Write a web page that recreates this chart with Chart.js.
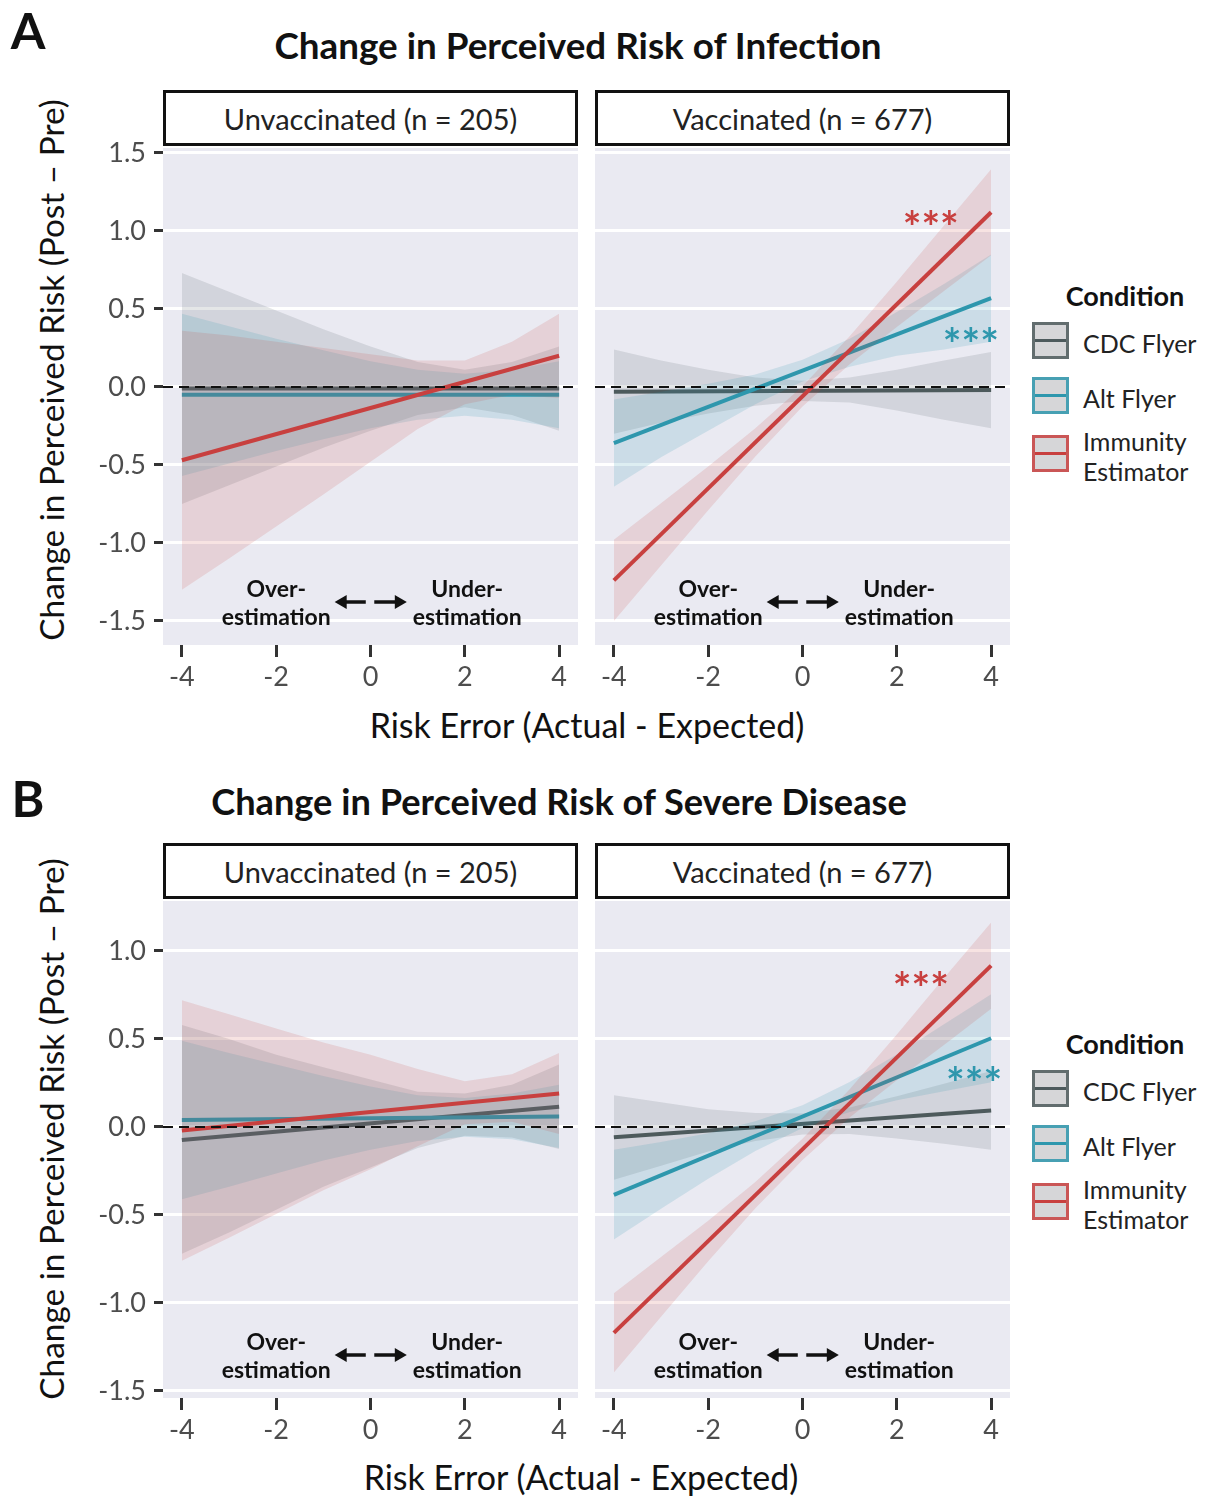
<!DOCTYPE html>
<html>
<head>
<meta charset="utf-8">
<script src="https://cdn.jsdelivr.net/npm/chart.js@4.4.0/dist/chart.umd.min.js"></script>
<style>
  body { margin:0; background:#fff; width:1205px; height:1496px; position:relative; overflow:hidden; font-family: Lato, "Open Sans", sans-serif; }
  .t { position:absolute; white-space:nowrap; transform:translate(-50%,-50%); line-height:1; color:#111; }
  .strip { position:absolute; box-sizing:border-box; border:3px solid #111; background:#fff; font-size:29px; color:#222; display:flex; align-items:center; justify-content:center; height:56px; width:415px; }
  .cv { position:absolute; }
  .key { position:absolute; box-sizing:border-box; width:37px; height:37px; border:3px solid; background:#D6D6D8; }
  .key i { position:absolute; left:0; right:0; top:14px; height:3px; display:block; }
  .lab { position:absolute; font-size:25px; color:#222; line-height:30px; white-space:nowrap; }
</style>
</head>
<body>

<div class="t" style="left:28px;top:30px;font-size:50px;font-weight:700;">A</div>
<div class="t" style="left:578px;top:45px;font-size:36.8px;font-weight:700;">Change in Perceived Risk of Infection</div>
<div class="strip" style="left:163px;top:90px;">Unvaccinated (n = 205)</div>
<div class="strip" style="left:595px;top:90px;">Vaccinated (n = 677)</div>
<div class="t" style="left:52px;top:370px;font-size:33.4px;transform:translate(-50%,-50%) rotate(-90deg);">Change in Perceived Risk (Post – Pre)</div>
<div class="t" style="left:587px;top:725px;font-size:34px;">Risk Error (Actual - Expected)</div>

<div class="t" style="left:28px;top:798px;font-size:50px;font-weight:700;">B</div>
<div class="t" style="left:559px;top:801px;font-size:36.2px;font-weight:700;">Change in Perceived Risk of Severe Disease</div>
<div class="strip" style="left:163px;top:843px;">Unvaccinated (n = 205)</div>
<div class="strip" style="left:595px;top:843px;">Vaccinated (n = 677)</div>
<div class="t" style="left:52px;top:1129px;font-size:33.4px;transform:translate(-50%,-50%) rotate(-90deg);">Change in Perceived Risk (Post – Pre)</div>
<div class="t" style="left:581px;top:1477px;font-size:34px;">Risk Error (Actual - Expected)</div>

<canvas id="cUA" class="cv" width="498" height="572" style="left:80px;top:128px;"></canvas>
<canvas id="cVA" class="cv" width="415" height="552" style="left:595px;top:148px;"></canvas>
<canvas id="cUB" class="cv" width="498" height="572" style="left:80px;top:881px;"></canvas>
<canvas id="cVB" class="cv" width="415" height="552" style="left:595px;top:901px;"></canvas>

<div id="legA"></div>
<div id="legB"></div>

<script>
// ---------- shared axes ----------
const xBand = [-4, -3, -2, -1, 0, 1, 2, 3, 4];
const xLine = [-4, 4];
const xTicks = [-4, -2, 0, 2, 4];
const yTicksA = [-1.5, -1.0, -0.5, 0.0, 0.5, 1.0, 1.5];
const yTicksB = [-1.5, -1.0, -0.5, 0.0, 0.5, 1.0];
const conditions = ['CDC Flyer', 'Alt Flyer', 'Immunity Estimator'];

// ---------- A: Infection, Unvaccinated ----------
const infUnvaxCdcLine = [-0.01, -0.01];
const infUnvaxCdcHi = [0.73, 0.61, 0.49, 0.37, 0.26, 0.16, 0.11, 0.16, 0.26];
const infUnvaxCdcLo = [-0.75, -0.63, -0.51, -0.39, -0.28, -0.18, -0.13, -0.18, -0.28];
const infUnvaxAltLine = [-0.05, -0.05];
const infUnvaxAltHi = [0.47, 0.39, 0.31, 0.235, 0.165, 0.11, 0.085, 0.11, 0.165];
const infUnvaxAltLo = [-0.57, -0.49, -0.41, -0.335, -0.265, -0.21, -0.185, -0.21, -0.265];
const infUnvaxImmLine = [-0.47, 0.20];
const infUnvaxImmHi = [0.36, 0.33, 0.29, 0.25, 0.21, 0.17, 0.17, 0.29, 0.47];
const infUnvaxImmLo = [-1.30, -1.10, -0.895, -0.69, -0.48, -0.27, -0.11, -0.05, -0.07];

// ---------- A: Infection, Vaccinated ----------
const infVaxCdcLine = [-0.03, -0.02];
const infVaxCdcHi = [0.24, 0.17, 0.11, 0.06, 0.04, 0.06, 0.11, 0.17, 0.225];
const infVaxCdcLo = [-0.30, -0.23, -0.17, -0.12, -0.09, -0.10, -0.15, -0.21, -0.265];
const infVaxAltLine = [-0.36, 0.57];
const infVaxAltHi = [-0.08, -0.03, 0.02, 0.08, 0.175, 0.31, 0.48, 0.66, 0.85];
const infVaxAltLo = [-0.64, -0.45, -0.28, -0.11, 0.035, 0.13, 0.20, 0.24, 0.29];
const infVaxImmLine = [-1.24, 1.12];
const infVaxImmHi = [-0.98, -0.745, -0.51, -0.265, 0.005, 0.325, 0.675, 1.035, 1.395];
const infVaxImmLo = [-1.50, -1.145, -0.79, -0.445, -0.125, 0.145, 0.385, 0.615, 0.845];

// ---------- B: Severe disease, Unvaccinated ----------
const sevUnvaxCdcLine = [-0.074, 0.115];
const sevUnvaxCdcHi = [0.58, 0.50, 0.41, 0.34, 0.27, 0.20, 0.19, 0.24, 0.355];
const sevUnvaxCdcLo = [-0.72, -0.60, -0.47, -0.34, -0.23, -0.12, -0.05, -0.06, -0.125];
const sevUnvaxAltLine = [0.04, 0.06];
const sevUnvaxAltHi = [0.49, 0.42, 0.355, 0.29, 0.23, 0.18, 0.165, 0.19, 0.24];
const sevUnvaxAltLo = [-0.41, -0.34, -0.265, -0.19, -0.13, -0.08, -0.055, -0.07, -0.12];
const sevUnvaxImmLine = [-0.02, 0.19];
const sevUnvaxImmHi = [0.72, 0.64, 0.56, 0.48, 0.41, 0.33, 0.26, 0.30, 0.42];
const sevUnvaxImmLo = [-0.76, -0.63, -0.495, -0.36, -0.24, -0.11, 0.015, 0.03, -0.04];

// ---------- B: Severe disease, Vaccinated ----------
const sevVaxCdcLine = [-0.059, 0.093];
const sevVaxCdcHi = [0.18, 0.14, 0.10, 0.08, 0.077, 0.11, 0.175, 0.245, 0.318];
const sevVaxCdcLo = [-0.30, -0.22, -0.14, -0.08, -0.043, -0.04, -0.065, -0.095, -0.13];
const sevVaxAltLine = [-0.386, 0.504];
const sevVaxAltHi = [-0.13, -0.085, -0.035, 0.033, 0.124, 0.255, 0.412, 0.583, 0.754];
const sevVaxAltLo = [-0.64, -0.465, -0.294, -0.137, -0.006, 0.085, 0.152, 0.203, 0.254];
const sevVaxImmLine = [-1.17, 0.917];
const sevVaxImmHi = [-0.945, -0.739, -0.533, -0.312, -0.067, 0.214, 0.525, 0.846, 1.162];
const sevVaxImmLo = [-1.395, -1.079, -0.763, -0.462, -0.187, 0.054, 0.265, 0.466, 0.672];

// ---------- styling ----------
const lineColors = ['#4D5A5C', '#2E97AD', '#C8403F'];
const bandColors = ['rgba(77,90,92,0.15)', 'rgba(46,151,173,0.16)', 'rgba(200,64,63,0.15)'];
const keyBorders = ['rgba(77,90,92,0.85)', 'rgba(46,151,173,0.85)', 'rgba(200,64,63,0.85)'];

function pts(xs, ys) { return xs.map((x, i) => ({ x: x, y: ys[i] })); }

function buildDatasets(series) {
  const ds = [];
  let order = 20;
  series.forEach((s, k) => {
    ds.push({ label: conditions[k] + ' lo', data: pts(xBand, s.lo), borderWidth: 0, pointRadius: 0, fill: false, order: order-- });
    ds.push({ label: conditions[k] + ' hi', data: pts(xBand, s.hi), borderWidth: 0, pointRadius: 0, fill: '-1', backgroundColor: bandColors[k], order: order-- });
    ds.push({ label: conditions[k], data: pts(xLine, s.line), borderColor: lineColors[k], borderWidth: 4, pointRadius: 0, fill: false, order: order-- });
  });
  ds.push({ label: 'zero', data: [{ x: -4.4, y: 0 }, { x: 4.4, y: 0 }], borderColor: '#111', borderWidth: 2, borderDash: [10, 6], pointRadius: 0, fill: false, order: 0 });
  return ds;
}

const panelBg = {
  id: 'panelBg',
  beforeDraw(chart) {
    const a = chart.chartArea, ctx = chart.ctx;
    ctx.save();
    ctx.fillStyle = '#EAEAF2';
    ctx.fillRect(a.left, a.top, a.right - a.left, a.bottom - a.top);
    ctx.restore();
  }
};

function arrow(ctx, xFrom, xTo, y) {
  const dir = xTo > xFrom ? 1 : -1;
  ctx.beginPath();
  ctx.moveTo(xFrom, y);
  ctx.lineTo(xTo - dir * 9, y);
  ctx.lineWidth = 3.5;
  ctx.strokeStyle = '#111';
  ctx.stroke();
  ctx.beginPath();
  ctx.moveTo(xTo, y);
  ctx.lineTo(xTo - dir * 12, y - 7);
  ctx.lineTo(xTo - dir * 12, y + 7);
  ctx.closePath();
  ctx.fillStyle = '#111';
  ctx.fill();
}

const panelAnnot = {
  id: 'panelAnnot',
  afterDatasetsDraw(chart, args, opts) {
    const ctx = chart.ctx, a = chart.chartArea, xs = chart.scales.x, ys = chart.scales.y;
    ctx.save();
    ctx.font = '700 23px Lato, sans-serif';
    ctx.fillStyle = '#111';
    ctx.textAlign = 'center';
    ctx.textBaseline = 'middle';
    const yTop = a.bottom - 55, yBot = a.bottom - 27, yArr = a.bottom - 43;
    ctx.fillText('Over-', xs.getPixelForValue(-2), yTop);
    ctx.fillText('estimation', xs.getPixelForValue(-2), yBot);
    ctx.fillText('Under-', xs.getPixelForValue(2.05), yTop);
    ctx.fillText('estimation', xs.getPixelForValue(2.05), yBot);
    arrow(ctx, xs.getPixelForValue(-0.1), xs.getPixelForValue(-0.76), yArr);
    arrow(ctx, xs.getPixelForValue(0.08), xs.getPixelForValue(0.77), yArr);
    (opts.stars || []).forEach(s => {
      ctx.font = '700 44px Lato, sans-serif';
      ctx.fillStyle = s.color;
      ctx.fillText('***', xs.getPixelForValue(s.x), ys.getPixelForValue(s.y) + 10);
    });
    ctx.restore();
  }
};

function makePanel(id, series, yMin, yMax, yTicks, showY, stars) {
  new Chart(document.getElementById(id), {
    type: 'line',
    data: { datasets: buildDatasets(series) },
    plugins: [panelBg, panelAnnot],
    options: {
      responsive: false,
      animation: false,
      devicePixelRatio: 1,
      layout: { padding: { top: showY ? 20 : 0, left: 0, right: 0, bottom: 0 } },
      plugins: { legend: { display: false }, tooltip: { enabled: false }, title: { display: false }, panelAnnot: { stars: stars } },
      scales: {
        x: {
          type: 'linear', min: -4.4, max: 4.4,
          border: { display: false },
          grid: { drawOnChartArea: false, drawTicks: true, tickLength: 12, tickWidth: 3, tickColor: '#333' },
          ticks: { color: '#4d4d4d', font: { family: 'Lato', size: 27 }, padding: 4, maxRotation: 0, callback: v => String(v) },
          afterBuildTicks: sc => { sc.ticks = xTicks.map(v => ({ value: v })); },
          afterFit: sc => { sc.height = 55; sc.paddingLeft = 0; sc.paddingRight = 0; }
        },
        y: {
          type: 'linear', min: yMin, max: yMax,
          border: { display: false },
          grid: { color: '#ffffff', lineWidth: 3, drawTicks: showY, tickLength: 9, tickWidth: 3, tickColor: '#333' },
          ticks: { display: showY, color: '#4d4d4d', font: { family: 'Lato', size: 27 }, padding: 8, callback: v => v.toFixed(1) },
          afterBuildTicks: sc => { sc.ticks = yTicks.map(v => ({ value: v })); },
          afterFit: sc => { sc.width = showY ? 83 : 0; sc.paddingTop = 0; sc.paddingBottom = 0; }
        }
      }
    }
  });
}

makePanel('cUA', [
  { line: infUnvaxCdcLine, hi: infUnvaxCdcHi, lo: infUnvaxCdcLo },
  { line: infUnvaxAltLine, hi: infUnvaxAltHi, lo: infUnvaxAltLo },
  { line: infUnvaxImmLine, hi: infUnvaxImmHi, lo: infUnvaxImmLo }
], -1.654, 1.532, yTicksA, true, []);

makePanel('cVA', [
  { line: infVaxCdcLine, hi: infVaxCdcHi, lo: infVaxCdcLo },
  { line: infVaxAltLine, hi: infVaxAltHi, lo: infVaxAltLo },
  { line: infVaxImmLine, hi: infVaxImmHi, lo: infVaxImmLo }
], -1.654, 1.532, yTicksA, false, [
  { x: 2.72, y: 1.08, color: lineColors[2] },
  { x: 3.57, y: 0.33, color: lineColors[1] }
]);

makePanel('cUB', [
  { line: sevUnvaxCdcLine, hi: sevUnvaxCdcHi, lo: sevUnvaxCdcLo },
  { line: sevUnvaxAltLine, hi: sevUnvaxAltHi, lo: sevUnvaxAltLo },
  { line: sevUnvaxImmLine, hi: sevUnvaxImmHi, lo: sevUnvaxImmLo }
], -1.54, 1.284, yTicksB, true, []);

makePanel('cVB', [
  { line: sevVaxCdcLine, hi: sevVaxCdcHi, lo: sevVaxCdcLo },
  { line: sevVaxAltLine, hi: sevVaxAltHi, lo: sevVaxAltLo },
  { line: sevVaxImmLine, hi: sevVaxImmHi, lo: sevVaxImmLo }
], -1.54, 1.284, yTicksB, false, [
  { x: 2.51, y: 0.835, color: lineColors[2] },
  { x: 3.64, y: 0.295, color: lineColors[1] }
]);

// ---------- legends (HTML) ----------
function legend(hostId, top) {
  const host = document.getElementById(hostId);
  let html = '<div class="t" style="left:1125px;top:' + (top) + 'px;font-size:27px;font-weight:700;">Condition</div>';
  const keyTops = [top + 27, top + 82, top + 140];
  conditions.forEach((c, k) => {
    html += '<div class="key" style="left:1032px;top:' + keyTops[k] + 'px;border-color:' + keyBorders[k] + ';"><i style="background:' + lineColors[k] + '"></i></div>';
    const words = k === 2 ? c.split(' ') : [c];
    const labTop = keyTops[k] + 21 - words.length * 15;
    html += '<div class="lab" style="left:1083px;top:' + labTop + 'px;">' + words.join('<br>') + '</div>';
  });
  host.innerHTML = html;
}
legend('legA', 295);
legend('legB', 1043);
</script>
</body>
</html>
